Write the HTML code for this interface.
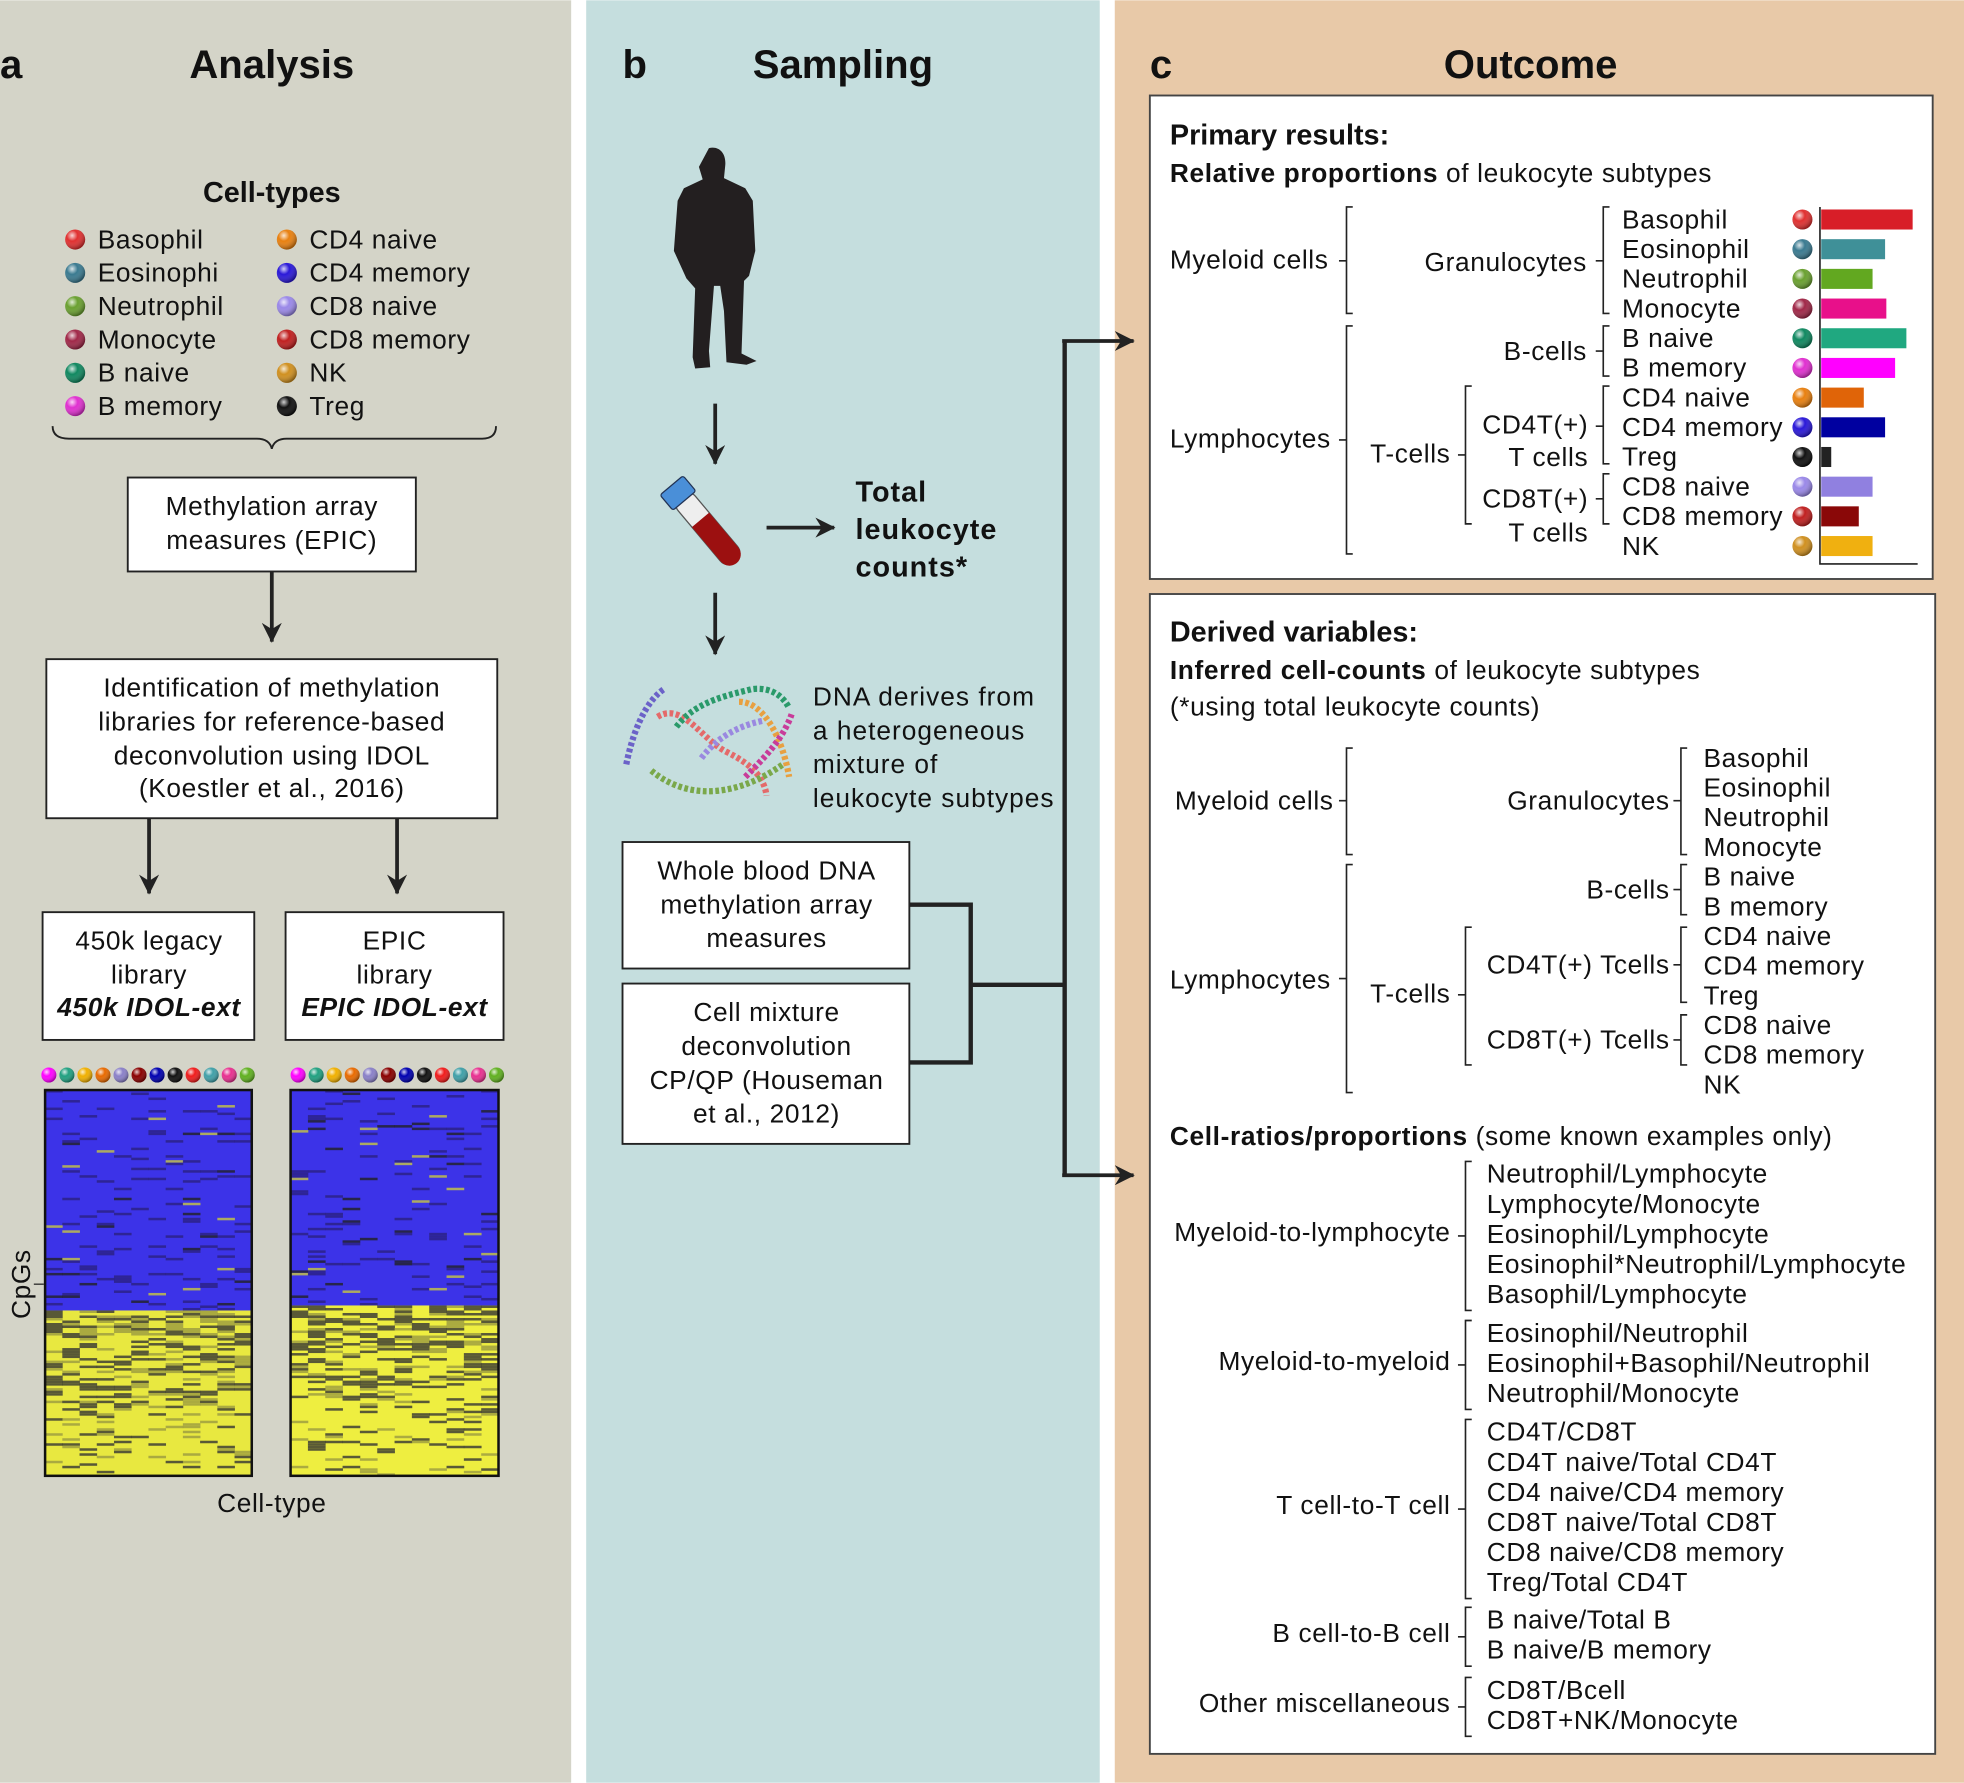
<!DOCTYPE html>
<html><head><meta charset="utf-8"><style>
html,body{margin:0;padding:0;background:#fff;}
svg{display:block;}
text{font-family:"Liberation Sans",Arial,sans-serif;fill:#111;}
.t{font-size:21px;letter-spacing:0.5px;}
.b{font-weight:bold;}
.w{letter-spacing:0.8px;}
</style></head><body>
<svg id="s" xmlns="http://www.w3.org/2000/svg" width="1964" height="1783" viewBox="0 0 1568 1423">
<defs>
<radialGradient id="g" cx="35%" cy="30%" r="70%"><stop offset="0" stop-color="#fff" stop-opacity="0.8"/><stop offset="0.4" stop-color="#fff" stop-opacity="0"/><stop offset="1" stop-color="#000" stop-opacity="0.35"/></radialGradient>
<marker id="ab" markerWidth="16" markerHeight="16" refX="15" refY="8" orient="auto" markerUnits="userSpaceOnUse"><path d="M0,0 L16,8 L0,16 L5,8z" fill="#222"/></marker>
</defs>
<rect x="0" y="0" width="456" height="1423" fill="#d4d4c8"/>
<rect x="468" y="0" width="410" height="1423" fill="#c5dede"/>
<rect x="890" y="0" width="678" height="1423" fill="#e8c9a8"/>

<!-- Panel a -->
<text x="0" y="62" font-size="32" class="b">a</text>
<text x="217" y="62" font-size="32" class="b" text-anchor="middle">Analysis</text>
<text x="217" y="161" font-size="23" class="b" text-anchor="middle">Cell-types</text>
<g class="t" id="legend"></g>
<path d="M42,340 Q42,350 55,350 L205,350 Q215,350 217,358 Q219,350 229,350 L385,350 Q396,350 396,340" fill="none" stroke="#222" stroke-width="1.5"/>
<rect x="102" y="381" width="230" height="75" fill="#fff" stroke="#222" stroke-width="1.5"/>
<text x="217" y="411" class="t" text-anchor="middle">Methylation array</text>
<text x="217" y="438" class="t" text-anchor="middle">measures (EPIC)</text>
<line x1="217" y1="456" x2="217" y2="512" stroke="#222" stroke-width="3" marker-end="url(#ab)"/>
<rect x="37" y="526" width="360" height="127" fill="#fff" stroke="#222" stroke-width="1.5"/>
<text x="217" y="556" class="t" text-anchor="middle">Identification of methylation</text>
<text x="217" y="583" class="t" text-anchor="middle">libraries for reference-based</text>
<text x="217" y="610" class="t" text-anchor="middle">deconvolution using IDOL</text>
<text x="217" y="636" class="t" text-anchor="middle">(Koestler et al., 2016)</text>
<line x1="119" y1="653" x2="119" y2="713" stroke="#222" stroke-width="3" marker-end="url(#ab)"/>
<line x1="317" y1="653" x2="317" y2="713" stroke="#222" stroke-width="3" marker-end="url(#ab)"/>
<rect x="34" y="728" width="169" height="102" fill="#fff" stroke="#222" stroke-width="1.5"/>
<text x="119" y="758" class="t" text-anchor="middle">450k legacy</text>
<text x="119" y="785" class="t" text-anchor="middle">library</text>
<text x="119" y="811" class="t b" font-style="italic" text-anchor="middle">450k IDOL-ext</text>
<rect x="228" y="728" width="174" height="102" fill="#fff" stroke="#222" stroke-width="1.5"/>
<text x="315" y="758" class="t" text-anchor="middle">EPIC</text>
<text x="315" y="785" class="t" text-anchor="middle">library</text>
<text x="315" y="811" class="t b" font-style="italic" text-anchor="middle">EPIC IDOL-ext</text>
<g id="dots"></g>
<g id="hm1"><rect x="36" y="870" width="165" height="176" fill="#3c33e8"/><rect x="36" y="1046" width="165" height="132" fill="#e8e840"/></g>
<g id="hm2"><rect x="232" y="870" width="166" height="172" fill="#3c33e8"/><rect x="232" y="1042" width="166" height="136" fill="#eeee40"/></g>
<rect x="36" y="870" width="165" height="308" fill="none" stroke="#111" stroke-width="2"/>
<rect x="232" y="870" width="166" height="308" fill="none" stroke="#111" stroke-width="2"/>
<text x="24" y="1025" class="t" text-anchor="middle" transform="rotate(-90 24 1025)">CpGs</text>
<line x1="27" y1="1025" x2="35" y2="1025" stroke="#222" stroke-width="1"/>
<text x="217" y="1207" class="t" text-anchor="middle">Cell-type</text>

<!-- Panel b -->
<text x="497" y="62" font-size="32" class="b">b</text>
<text x="673" y="62" font-size="32" class="b" text-anchor="middle">Sampling</text>
<path d="M566,118 C574,116 580,122 579,132 L578,142 L595,150 L601,160 L603,200 L598,220 L594,224 L592,282 L604,288 L596,291 L580,289 L578,248 L575,228 L570,228 L566,280 L567,293 L555,294 L553,285 L555,230 L548,222 L538,200 L541,160 L546,150 L561,143 L558,133 Z" fill="#231f20"/>
<line x1="571" y1="322" x2="571" y2="370" stroke="#222" stroke-width="3" marker-end="url(#ab)"/>
<g transform="rotate(-40 567 424)">
<rect x="558" y="386" width="18" height="70" rx="9" fill="#eee" stroke="#555" stroke-width="1"/>
<path d="M558,412 L576,412 L576,448 A9,9 0 0 1 558,448 Z" fill="#9c1010"/>
<rect x="555" y="376" width="24" height="16" rx="2" fill="#4a8fd8" stroke="#235" stroke-width="1"/>
</g>
<line x1="612" y1="421" x2="666" y2="421" stroke="#222" stroke-width="3" marker-end="url(#ab)"/>
<text x="683" y="400" font-size="23" class="b w">Total</text>
<text x="683" y="430" font-size="23" class="b w">leukocyte</text>
<text x="683" y="460" font-size="23" class="b w">counts*</text>
<line x1="571" y1="473" x2="571" y2="522" stroke="#222" stroke-width="3" marker-end="url(#ab)"/>
<g fill="none" stroke-width="5" stroke-dasharray="3 2">
<path d="M500,610 C505,585 515,560 530,550" stroke="#6b62c8"/>
<path d="M525,572 C545,560 560,590 580,600 C600,610 610,620 612,635" stroke="#e46a6a"/>
<path d="M540,580 C555,560 580,555 600,550 C615,548 625,555 630,565" stroke="#2a9a6a"/>
<path d="M590,560 C610,560 625,590 630,620" stroke="#e8a040"/>
<path d="M520,615 C550,640 590,635 625,610" stroke="#7aa84a"/>
<path d="M560,605 C575,585 595,578 610,575" stroke="#9a88e0"/>
<path d="M595,620 C610,605 625,590 632,570" stroke="#c83c9a"/>
</g>
<text x="649" y="563" class="t w">DNA derives from</text>
<text x="649" y="590" class="t w">a heterogeneous</text>
<text x="649" y="617" class="t w">mixture of</text>
<text x="649" y="644" class="t w">leukocyte subtypes</text>
<rect x="497" y="672" width="229" height="101" fill="#fff" stroke="#222" stroke-width="1.5"/>
<text x="612" y="702" class="t" text-anchor="middle">Whole blood DNA</text>
<text x="612" y="729" class="t" text-anchor="middle">methylation array</text>
<text x="612" y="756" class="t" text-anchor="middle">measures</text>
<rect x="497" y="785" width="229" height="128" fill="#fff" stroke="#222" stroke-width="1.5"/>
<text x="612" y="815" class="t" text-anchor="middle">Cell mixture</text>
<text x="612" y="842" class="t" text-anchor="middle">deconvolution</text>
<text x="612" y="869" class="t" text-anchor="middle">CP/QP (Houseman</text>
<text x="612" y="896" class="t" text-anchor="middle">et al., 2012)</text>
<path d="M726,722 L775,722 L775,848 L726,848 M775,786 L850,786 M850,272 L850,938" fill="none" stroke="#222" stroke-width="3.5"/>
<line x1="848" y1="272" x2="905" y2="272" stroke="#222" stroke-width="3" marker-end="url(#ab)"/>
<line x1="848" y1="938" x2="905" y2="938" stroke="#222" stroke-width="3" marker-end="url(#ab)"/>

<!-- Panel c -->
<text x="918" y="62" font-size="32" class="b">c</text>
<text x="1222" y="62" font-size="32" class="b" text-anchor="middle">Outcome</text>
<rect x="918" y="76" width="625" height="386" fill="#fff" stroke="#444" stroke-width="1.5"/>
<rect x="918" y="474" width="627" height="926" fill="#fff" stroke="#444" stroke-width="1.5"/>
<text x="934" y="115" font-size="23" class="b">Primary results:</text>
<text x="934" y="145" class="t"><tspan class="b">Relative proportions</tspan> of leukocyte subtypes</text>
<g class="t">
<text x="934" y="214">Myeloid cells</text>
<text x="1267" y="216" text-anchor="end">Granulocytes</text>
<text x="1267" y="287" text-anchor="end">B-cells</text>
<text x="934" y="357">Lymphocytes</text>
<text x="1158" y="369" text-anchor="end">T-cells</text>
<text x="1268" y="346" text-anchor="end">CD4T(+)</text>
<text x="1268" y="372" text-anchor="end">T cells</text>
<text x="1268" y="405" text-anchor="end">CD8T(+)</text>
<text x="1268" y="432" text-anchor="end">T cells</text>
</g>
<g id="prim"></g>
<g fill="none" stroke="#222" stroke-width="1.3">
<path d="M1080,165 L1075,165 L1075,250 L1080,250 M1069,208 L1075,208"/>
<path d="M1080,260 L1075,260 L1075,442 L1080,442 M1069,351 L1075,351"/>
<path d="M1285,165 L1280,165 L1280,250 L1285,250 M1274,208 L1280,208"/>
<path d="M1285,260 L1280,260 L1280,300 L1285,300 M1274,280 L1280,280"/>
<path d="M1285,308 L1280,308 L1280,370 L1285,370 M1274,340 L1280,340"/>
<path d="M1285,378 L1280,378 L1280,418 L1285,418 M1274,398 L1280,398"/>
<path d="M1175,308 L1170,308 L1170,418 L1175,418 M1164,363 L1170,363"/>
<path d="M1453,165 L1453,450 L1531,450"/>
</g>

<text x="934" y="512" font-size="23" class="b">Derived variables:</text>
<text x="934" y="542" class="t"><tspan class="b">Inferred cell-counts</tspan> of leukocyte subtypes</text>
<text x="934" y="571" class="t">(*using total leukocyte counts)</text>
<g class="t">
<text x="938" y="646">Myeloid cells</text>
<text x="1333" y="646" text-anchor="end">Granulocytes</text>
<text x="1333" y="717" text-anchor="end">B-cells</text>
<text x="934" y="789">Lymphocytes</text>
<text x="1158" y="800" text-anchor="end">T-cells</text>
<text x="1333" y="777" text-anchor="end">CD4T(+) Tcells</text>
<text x="1333" y="837" text-anchor="end">CD8T(+) Tcells</text>
</g>
<g id="der" class="t"></g>
<g fill="none" stroke="#222" stroke-width="1.3">
<path d="M1080,597 L1075,597 L1075,682 L1080,682 M1069,639 L1075,639"/>
<path d="M1080,690 L1075,690 L1075,872 L1080,872 M1069,781 L1075,781"/>
<path d="M1347,597 L1342,597 L1342,682 L1347,682 M1336,639 L1342,639"/>
<path d="M1347,690 L1342,690 L1342,730 L1347,730 M1336,710 L1342,710"/>
<path d="M1347,740 L1342,740 L1342,800 L1347,800 M1336,770 L1342,770"/>
<path d="M1347,810 L1342,810 L1342,850 L1347,850 M1336,830 L1342,830"/>
<path d="M1175,740 L1170,740 L1170,850 L1175,850 M1164,794 L1170,794"/>
</g>
<text x="934" y="914" class="t"><tspan class="b">Cell-ratios/proportions</tspan> (some known examples only)</text>
<g id="rat" class="t"></g>
</svg>
<script>
var NS="http://www.w3.org/2000/svg";
function el(p,n,a,txt){var e=document.createElementNS(NS,n);for(var k in a)e.setAttribute(k,a[k]);if(txt!==undefined)e.textContent=txt;p.appendChild(e);return e;}
function ball(p,x,y,c,r){el(p,"circle",{cx:x,cy:y,r:r||8,fill:c});el(p,"circle",{cx:x,cy:y,r:r||8,fill:"url(#g)"});}
var L=document.getElementById("legend");
var lg=[["Basophil","#e03030","CD4 naive","#e88010"],["Eosinophi","#3a7a90","CD4 memory","#2a18d8"],["Neutrophil","#6aa030","CD8 naive","#9a88e8"],["Monocyte","#a02848","CD8 memory","#c02020"],["B naive","#108860","NK","#d09020"],["B memory","#e030d0","Treg","#111"]];
lg.forEach(function(r,i){var y=198+i*26.6;ball(L,60,y-7,r[1]);el(L,"text",{x:78,y:y},r[0]);ball(L,229,y-7,r[3]);el(L,"text",{x:247,y:y},r[2]);});
var dc=["#ff00ff","#20a080","#f0b000","#e86a00","#8a80c8","#8a0000","#0000b0","#111","#f01c1c","#40a0a8","#e83090","#60b020"];
var D=document.getElementById("dots");
dc.forEach(function(c,i){ball(D,39+i*14.4,858,c,6);ball(D,238+i*14.4,858,c,6);});
var seed=7;function rnd(){seed=(seed*16807)%2147483647;return seed/2147483647;}
function hm(id,x0,w,split){var g=document.getElementById(id);var cw=w/12;
for(var y=870;y<1178;y+=2){for(var c=0;c<12;c++){var r=rnd();var col=null;
if(y<split){if(r<0.08)col="#2a2080";else if(r<0.1)col="#222";else if(r<0.115)col="#c8c840";}
else{var f=(y-split)/(1178-split);if(r<0.35*(1-f)+0.05)col="#333";else if(r<0.5*(1-f)+0.1)col="#9a9a40";else if(r<0.18*(1-f))col="#3a30c0";}
if(col)el(g,"rect",{x:x0+c*cw,y:y,width:cw+0.3,height:2,fill:col,opacity:0.8});}}}
hm("hm1",36,165,1046);hm("hm2",232,166,1042);
var P=document.getElementById("prim");
var pr=[["Basophil","#e03030","#d81e28",73],["Eosinophil","#3a7a90","#3f9098",51],["Neutrophil","#6aa030","#62a820",41],["Monocyte","#a02848","#e8108a",52],["B naive","#108860","#20a880",68],["B memory","#e030d0","#ff00ff",59],["CD4 naive","#e88010","#e06408",34],["CD4 memory","#2a18d8","#0000a0",51],["Treg","#111","#222",8],["CD8 naive","#9a88e8","#9080e0",41],["CD8 memory","#c02020","#8a0808",30],["NK","#d09020","#f0b010",41]];
pr.forEach(function(r,i){var y=182+i*23.7;el(P,"text",{x:1295,y:y,"class":"t"},r[0]);ball(P,1439,y-7,r[1],8);el(P,"rect",{x:1454,y:y-15,width:r[3],height:16,fill:r[2]});});
var Dg=document.getElementById("der");
["Basophil","Eosinophil","Neutrophil","Monocyte","B naive","B memory","CD4 naive","CD4 memory","Treg","CD8 naive","CD8 memory","NK"].forEach(function(t,i){el(Dg,"text",{x:1360,y:612+i*23.7},t);});
var R=document.getElementById("rat");
var grp=[["Myeloid-to-lymphocyte",944,["Neutrophil/Lymphocyte","Lymphocyte/Monocyte","Eosinophil/Lymphocyte","Eosinophil*Neutrophil/Lymphocyte","Basophil/Lymphocyte"]],
["Myeloid-to-myeloid",1071,["Eosinophil/Neutrophil","Eosinophil+Basophil/Neutrophil","Neutrophil/Monocyte"]],
["T cell-to-T cell",1150,["CD4T/CD8T","CD4T naive/Total CD4T","CD4 naive/CD4 memory","CD8T naive/Total CD8T","CD8 naive/CD8 memory","Treg/Total CD4T"]],
["B cell-to-B cell",1300,["B naive/Total B","B naive/B memory"]],
["Other miscellaneous",1356,["CD8T/Bcell","CD8T+NK/Monocyte"]]];
grp.forEach(function(g){var y0=g[1],n=g[2].length;g[2].forEach(function(t,i){el(R,"text",{x:1187,y:y0+i*24},t);});
var top=y0-17,bot=y0+(n-1)*24+6,mid=(top+bot)/2;
el(R,"path",{d:"M1175,"+top+" L1170,"+top+" L1170,"+bot+" L1175,"+bot+" M1164,"+mid+" L1170,"+mid,fill:"none",stroke:"#222","stroke-width":1.3});
el(R,"text",{x:1158,y:mid+4,"text-anchor":"end"},g[0]);});
</script>
</body></html>
